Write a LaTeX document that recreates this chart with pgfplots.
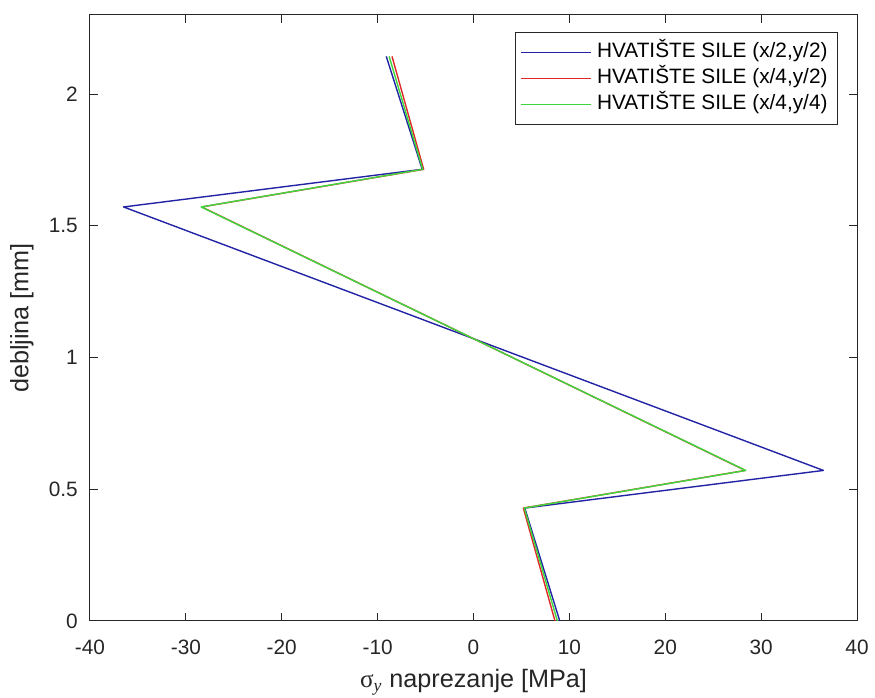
\documentclass[border=0pt]{standalone}
\usepackage{fontspec}
\setmainfont{Liberation Sans}
\newfontfamily\serifsym{Liberation Serif}
\usepackage{pgfplots}
\pgfplotsset{compat=1.18}
\definecolor{axgray}{RGB}{38,38,38}
\definecolor{lblue}{RGB}{35,35,165}
\definecolor{lred}{RGB}{225,40,40}
\definecolor{lgreen}{RGB}{60,215,60}

\begin{document}
\fontsize{10.4pt}{12.5pt}\selectfont
\begin{tikzpicture}
\begin{axis}[
  scale only axis, width=383.5pt, height=303pt,
  xmin=-40, xmax=40, ymin=0, ymax=2.3,
  xtick={-40,-30,...,40}, ytick={0,0.5,1,1.5,2},
  tick align=inside, major tick length=4pt,
  axis line style={axgray, line width=0.5pt},
  every tick/.style={axgray, line width=0.5pt},
  /pgf/number format/assume math mode=true,
  ticklabel style={font=\fontsize{10.4pt}{12pt}\selectfont, text=axgray},
  xticklabel style={yshift=-6pt},
  yticklabel style={xshift=-2.5pt},
  xlabel={{\serifsym σ}\textsubscript{\serifsym\itshape y} naprezanje [MPa]},
  ylabel={debljina [mm]},
  xlabel style={at={(axis description cs:0.5,-0.1007)}, anchor=center, font=\fontsize{12.6pt}{14pt}\selectfont, text=axgray},
  ylabel style={at={(axis description cs:-0.0887,0.5)}, anchor=center, font=\fontsize{12.6pt}{14pt}\selectfont, text=axgray},
  legend style={at={(axis description cs:0.9752,0.972)}, anchor=north east,
    draw=axgray, line width=0.5pt, fill=white,
    font=\fontsize{10.4pt}{12pt}\selectfont, text=black,
    inner xsep=2.5pt, inner ysep=3.5pt, row sep=0pt,
    nodes={text height=7.5pt, text depth=2.2pt, inner ysep=1.65pt, inner xsep=2.5pt}},
  legend cell align=left,
  legend image code/.code={\draw[#1, line width=0.7pt] (0pt,0pt) -- (35pt,0pt);},
  every axis plot/.append style={line width=0.7pt, line join=round},
]
\addplot[lblue] coordinates {(9.0,0) (5.35,0.4286) (36.5,0.5714) (-36.5,1.5714) (-5.35,1.7143) (-9.1,2.1429)};
\addplot[lred] coordinates {(8.5,0) (5.2,0.4286) (28.35,0.5714) (-28.35,1.5714) (-5.2,1.7143) (-8.5,2.1429)};
\addplot[lgreen] coordinates {(8.75,0) (5.3,0.4286) (28.4,0.5714) (-28.4,1.5714) (-5.3,1.7143) (-8.8,2.1429)};
\legend{HVATIŠTE SILE (x/2{,}y/2), HVATIŠTE SILE (x/4{,}y/2), HVATIŠTE SILE (x/4{,}y/4)}
\end{axis}
\pgfresetboundingbox
\path ([xshift=-45pt,yshift=-38.5pt]current axis.south west) rectangle ([xshift=9pt,yshift=7.5pt]current axis.north east);
\end{tikzpicture}
\end{document}
